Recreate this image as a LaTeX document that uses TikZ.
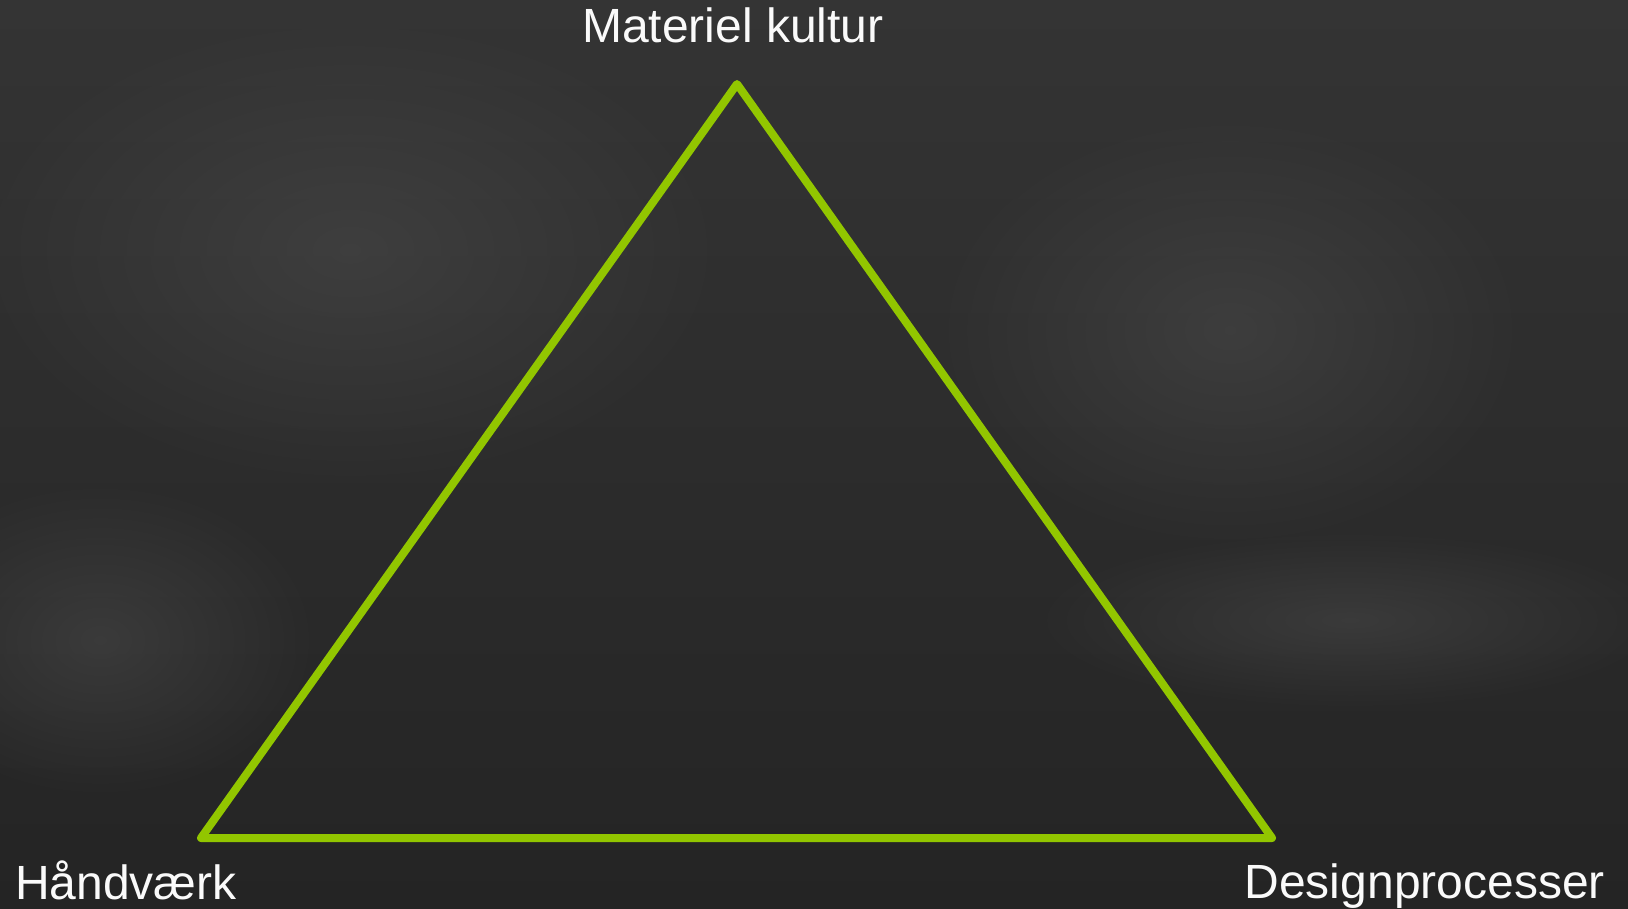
\documentclass[tikz,border=0pt]{standalone}
\usepackage{fontspec}
\setmainfont{Liberation Sans}
\usetikzlibrary{fadings}
\definecolor{board}{RGB}{52,52,52}
\definecolor{boarddark}{RGB}{36,36,36}
\definecolor{boardlight}{RGB}{80,80,80}
\definecolor{trigreen}{RGB}{146,198,0}
\definecolor{chalkwhite}{RGB}{250,250,250}
\tikzfading[name=softspot, inner color=transparent!55, outer color=transparent!100]
\tikzset{
  label text/.style={text=chalkwhite, inner sep=0pt, font=\fontsize{48}{56}\selectfont},
  tri line/.style={draw=trigreen, line width=8pt, line join=round, line cap=round},
  spot/.style={fill=boardlight, path fading=softspot}
}
\begin{document}
\begin{tikzpicture}[x=1pt,y=-1pt]
\useasboundingbox (0,0) rectangle (1628,909);
% chalkboard background
\fill[top color=board, bottom color=boarddark] (0,0) rectangle (1628,909);
\fill[spot] (1230,330) ellipse (300 and 220);
\fill[spot] (1350,620) ellipse (320 and 90);
\fill[spot] (350,250) ellipse (380 and 240);
\fill[spot] (100,640) ellipse (220 and 160);
% vertices
\coordinate (top) at (737,84);
\coordinate (bl) at (201,838);
\coordinate (br) at (1272,838);
\draw[tri line] (top) -- (br) -- (bl) -- cycle;
% labels
\node[label text, anchor=base] (mk) at (733,43) {Materiel kultur};
\node[label text, anchor=base west] (hv) at (15,899) {Håndværk};
\node[label text, anchor=base east] (dp) at (1605,898) {Designprocesser};
\end{tikzpicture}
\end{document}
